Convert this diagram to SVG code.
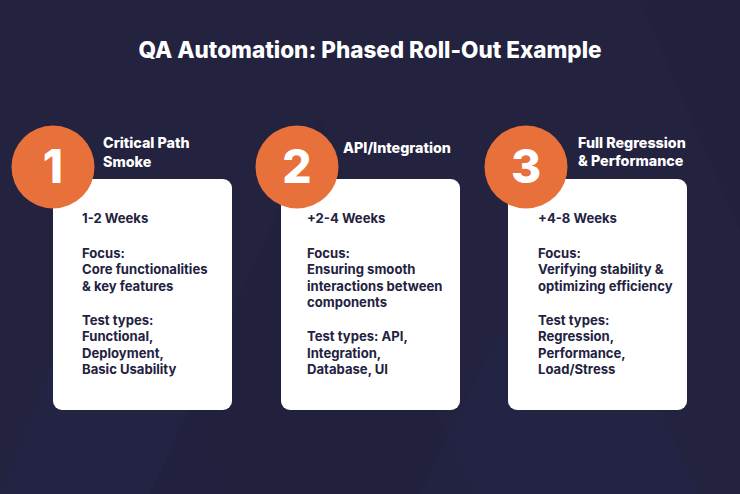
<svg xmlns="http://www.w3.org/2000/svg" width="740" height="494" viewBox="0 0 740 494">
<style>
.bg{fill:#23223f}
.tri{fill:#25254a;opacity:0.35}
.tri2{fill:#1f1f38;opacity:0.35}
.title{font-family:"Inter","Liberation Sans",sans-serif;font-weight:800;font-size:22.5px;fill:#ffffff}
.card{fill:#ffffff}
.badge{fill:#e8703a}
.num{font-family:"Inter","Liberation Sans",sans-serif;font-weight:800;font-size:46px;fill:#ffffff}
.head{font-family:"Inter","Liberation Sans",sans-serif;font-weight:800;font-size:14.3px;fill:#ffffff}
.body{font-family:"Inter","Liberation Sans",sans-serif;font-weight:700;font-size:13.1px;fill:#23223f}
</style>
<rect class="bg" x="0" y="0" width="740" height="494"/>
<polygon class="tri" points="0,494 110,210 230,494"/>
<polygon class="tri2" points="150,494 320,120 470,494"/>
<polygon class="tri" points="420,494 560,200 700,494"/>
<polygon class="tri2" points="640,0 740,0 740,230"/>
<text class="title" x="370" y="58" text-anchor="middle">QA Automation: Phased Roll-Out Example</text>
<g id="connectors"></g>
<g id="phase1">
<rect class="card" x="53" y="179" width="179" height="231" rx="9"/>
<circle class="badge" cx="53" cy="167" r="41.5"/>
<text class="num" x="53" y="183" text-anchor="middle">1</text>
<text class="head" x="103" y="148">Critical Path</text>
<text class="head" x="103" y="167">Smoke</text>
<text class="body" x="82" y="223">1-2 Weeks</text>
<text class="body" x="82" y="258">Focus:</text>
<text class="body" x="82" y="274">Core functionalities</text>
<text class="body" x="82" y="290.5">&amp; key features</text>
<text class="body" x="82" y="324.5">Test types:</text>
<text class="body" x="82" y="341">Functional,</text>
<text class="body" x="82" y="357.5">Deployment,</text>
<text class="body" x="82" y="374">Basic Usability</text>
</g>
<g id="phase2">
<rect class="card" x="281" y="179" width="179" height="231" rx="9"/>
<circle class="badge" cx="297" cy="167" r="41.5"/>
<text class="num" x="297" y="183" text-anchor="middle">2</text>
<text class="head" x="343" y="153">API/Integration</text>
<text class="body" x="307" y="223">+2-4 Weeks</text>
<text class="body" x="307" y="258">Focus:</text>
<text class="body" x="307" y="274">Ensuring smooth</text>
<text class="body" x="307" y="290.5">interactions between</text>
<text class="body" x="307" y="307">components</text>
<text class="body" x="307" y="341">Test types: API,</text>
<text class="body" x="307" y="357.5">Integration,</text>
<text class="body" x="307" y="374">Database, UI</text>
</g>
<g id="phase3">
<rect class="card" x="508" y="179" width="179" height="231" rx="9"/>
<circle class="badge" cx="526" cy="167" r="41.5"/>
<text class="num" x="526" y="183" text-anchor="middle">3</text>
<text class="head" x="578" y="148">Full Regression</text>
<text class="head" x="578" y="166">&amp; Performance</text>
<text class="body" x="538" y="223">+4-8 Weeks</text>
<text class="body" x="538" y="258">Focus:</text>
<text class="body" x="538" y="274">Verifying stability &amp;</text>
<text class="body" x="538" y="290.5">optimizing efficiency</text>
<text class="body" x="538" y="324.5">Test types:</text>
<text class="body" x="538" y="341">Regression,</text>
<text class="body" x="538" y="357.5">Performance,</text>
<text class="body" x="538" y="374">Load/Stress</text>
</g>
</svg>
